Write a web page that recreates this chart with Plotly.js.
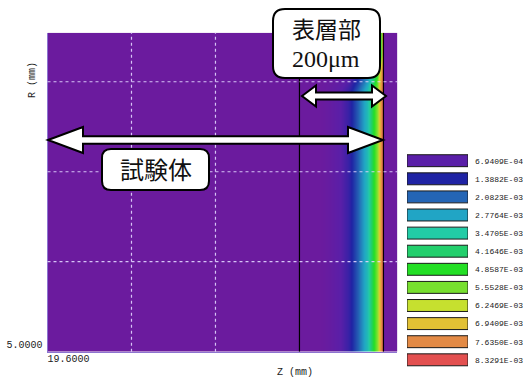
<!DOCTYPE html>
<html>
<head>
<meta charset="utf-8">
<script src="https://cdn.plot.ly/plotly-3.0.1.min.js"></script>
<style>
  html, body { margin: 0; padding: 0; background: #fff; }
  #chart { width: 523px; height: 377px; }
</style>
</head>
<body>
<div id="chart"></div>
<script>
// Contour levels of the concentration key
const levelValues = [6.9409e-4, 1.3882e-3, 2.0823e-3, 2.7764e-3, 3.4705e-3, 4.1646e-3,
                     4.8587e-3, 5.5528e-3, 6.2469e-3, 6.9409e-3, 7.6350e-3, 8.3291e-3];
const levelLabels = ['6.9409E-04', '1.3882E-03', '2.0823E-03', '2.7764E-03', '3.4705E-03', '4.1646E-03',
                     '4.8587E-03', '5.5528E-03', '6.2469E-03', '6.9409E-03', '7.6350E-03', '8.3291E-03'];
const levelColors = ['#5a1fa8', '#1f23a4', '#2465b5', '#21a5c5', '#22cca6', '#22cf6c',
                     '#23df24', '#77df2f', '#c6e02f', '#e2c134', '#e38a45', '#e35050'];
const baseColor = '#6b1b9e';

// Axial positions Z (mm) of the profile nodes
const zNodes = [19.600, 20.250, 20.268, 20.285, 20.301, 20.316, 20.327, 20.339, 20.351, 20.361,
                20.370, 20.377, 20.385, 20.389, 20.394, 20.398, 20.3995, 20.4005, 20.433];
// Radial positions R (mm) of the profile rows
const rNodes = [5.000, 5.580, 5.625, 5.660, 5.709];

// Concentration along Z: bulk of the specimen, near the end face, at the end face
const profileBulk     = [0, 0, 0.0002, 0.0005, 0.00075, 0.0011, 0.0015, 0.0020, 0.0026, 0.0032,
                         0.0040, 0.0048, 0.0058, 0.0066, 0.0074, 0.0081, 0.0083, 0, 0];
const profileShoulder = [0, 0, 0, 0, 0.0002, 0.0004, 0.0007, 0.0011, 0.0016, 0.0022,
                         0.0030, 0.0038, 0.0050, 0.0060, 0.0070, 0.0079, 0.0083, 0, 0];
const profileEdge     = [0, 0, 0, 0, 0, 0, 0, 0, 0, 0,
                         0, 0, 0.0005, 0.0020, 0.0045, 0.0072, 0.0083, 0, 0];
const rowProfiles = [profileBulk, profileBulk, profileShoulder, profileEdge, profileEdge];

// Mesh boundary lines (Z, mm) and grid positions
const boundaryZ = [20.2, 20.4];
const zGrid = [19.8, 20.0];
const rGrid = [5.2, 5.4, 5.6];
const zRange = [19.6, 20.433];
const rRange = [5.0, 5.709];
const zTickText = '19.6000';
const rTickText = '5.0000';

// ---- build colour scale from the key levels ----
const zMax = levelValues[levelValues.length - 1];
const colorscale = [[0, baseColor]].concat(levelValues.map((v, i) => [v / zMax, levelColors[i]]));

// ---- page-pixel helpers for the callout graphics ----
const W = 523, H = 377;
const px = x => x / W;
const py = y => 1 - y / H;
const pt = (x, y) => px(x).toFixed(5) + ',' + py(y).toFixed(5);

function roundRect(x0, y0, x1, y1, r) {
  return 'M' + pt(x0 + r, y0) + ' L' + pt(x1 - r, y0) + ' Q' + pt(x1, y0) + ' ' + pt(x1, y0 + r) +
         ' L' + pt(x1, y1 - r) + ' Q' + pt(x1, y1) + ' ' + pt(x1 - r, y1) +
         ' L' + pt(x0 + r, y1) + ' Q' + pt(x0, y1) + ' ' + pt(x0, y1 - r) +
         ' L' + pt(x0, y0 + r) + ' Q' + pt(x0, y0) + ' ' + pt(x0 + r, y0) + ' Z';
}
function doubleArrow(xl, xr, yc, hl, hh, sh) {
  return 'M' + pt(xl, yc) + ' L' + pt(xl + hl, yc - hh) + ' L' + pt(xl + hl, yc - sh) +
         ' L' + pt(xr - hl, yc - sh) + ' L' + pt(xr - hl, yc - hh) + ' L' + pt(xr, yc) +
         ' L' + pt(xr - hl, yc + hh) + ' L' + pt(xr - hl, yc + sh) + ' L' + pt(xl + hl, yc + sh) +
         ' L' + pt(xl + hl, yc + hh) + ' Z';
}

const monoFont = { family: 'Liberation Mono, DejaVu Sans Mono, monospace', size: 10, color: '#222' };

// ---- traces ----
const field = {
  type: 'heatmap',
  x: zNodes,
  y: rNodes,
  z: rowProfiles,
  zmin: 0,
  zmax: zMax,
  colorscale: colorscale,
  zsmooth: 'best',
  showscale: false,
  hoverinfo: 'skip',
  xaxis: 'x', yaxis: 'y'
};

const boundaries = boundaryZ.map(zb => ({
  type: 'scatter', mode: 'lines',
  x: [zb, zb], y: rRange,
  line: { color: '#000', width: 1.2 },
  hoverinfo: 'skip', showlegend: false,
  xaxis: 'x', yaxis: 'y'
}));

const key = {
  type: 'bar',
  orientation: 'h',
  x: levelValues.map(() => 1),
  y: levelLabels,
  marker: { color: levelColors, line: { color: '#1a1a1a', width: 1 } },
  hoverinfo: 'skip', showlegend: false,
  xaxis: 'x2', yaxis: 'y2'
};

// ---- gridlines drawn above the field ----
const shapes = [];
zGrid.forEach(g => shapes.push({
  type: 'line', xref: 'x', yref: 'y domain', x0: g, x1: g, y0: 0, y1: 1,
  line: { color: 'rgba(226,214,255,0.9)', width: 1.2, dash: '3px,3px' }, layer: 'above'
}));
rGrid.forEach(g => shapes.push({
  type: 'line', xref: 'x domain', yref: 'y', x0: 0, x1: 1, y0: g, y1: g,
  line: { color: 'rgba(226,214,255,0.9)', width: 1.2, dash: '3px,3px' }, layer: 'above'
}));

// callout arrows and boxes
const calloutStyle = { fillcolor: '#fff', line: { color: '#000', width: 2 }, layer: 'above', xref: 'paper', yref: 'paper', type: 'path' };
shapes.push(Object.assign({ path: doubleArrow(48, 383, 140, 35, 13, 3.8) }, calloutStyle));
shapes.push(Object.assign({ path: doubleArrow(302, 386, 96, 14, 10.5, 3.6) }, calloutStyle));
shapes.push(Object.assign({ path: roundRect(273, 9, 380, 78, 12) }, calloutStyle));
shapes.push(Object.assign({ path: roundRect(102, 149, 209, 190, 9) }, calloutStyle));

const annotations = [
  { text: '表層部', x: px(326), y: py(28), xref: 'paper', yref: 'paper', showarrow: false,
    xanchor: 'center', yanchor: 'middle',
    font: { family: 'Noto Sans CJK JP', size: 23, color: '#111' } },
  { text: '200μm', x: px(326), y: py(59), xref: 'paper', yref: 'paper', showarrow: false,
    xanchor: 'center', yanchor: 'middle',
    font: { family: 'Liberation Serif, DejaVu Serif, serif', size: 24, color: '#111' } },
  { text: '試験体', x: px(155.5), y: py(168.5), xref: 'paper', yref: 'paper', showarrow: false,
    xanchor: 'center', yanchor: 'middle',
    font: { family: 'Noto Sans CJK JP', size: 24, color: '#111' } },
  { text: 'Z (mm)', x: px(295), y: py(372), xref: 'paper', yref: 'paper', showarrow: false,
    xanchor: 'center', yanchor: 'middle', font: monoFont },
  { text: 'R (mm)', x: px(32), y: py(80), xref: 'paper', yref: 'paper', showarrow: false,
    xanchor: 'center', yanchor: 'middle', textangle: -90,
    font: Object.assign({}, monoFont, { size: 10 }) }
];

const layout = {
  width: W, height: H,
  margin: { l: 0, r: 0, t: 0, b: 0, pad: 0 },
  paper_bgcolor: '#fff',
  plot_bgcolor: '#fff',
  showlegend: false,
  xaxis: {
    domain: [px(47.5), px(397.3)], range: zRange, anchor: 'y',
    showgrid: false, zeroline: false, ticks: '',
    tickmode: 'array', tickvals: [zRange[0]], ticktext: [zTickText],
    ticklabelshift: 21, ticklabelstandoff: -3,
    tickfont: monoFont,
    showline: true, linecolor: '#8c74d0', linewidth: 1
  },
  yaxis: {
    domain: [py(351.7), py(32.7)], range: rRange, anchor: 'x',
    showgrid: false, zeroline: false, ticks: '',
    tickmode: 'array', tickvals: [rRange[0]], ticktext: [rTickText],
    ticklabelshift: -7, ticklabelstandoff: 2,
    tickfont: monoFont,
    showline: true, linecolor: '#8c74d0', linewidth: 1
  },
  xaxis2: {
    domain: [px(407), px(468)], range: [0, 1], anchor: 'y2',
    visible: false, fixedrange: true
  },
  yaxis2: {
    domain: [py(368.85), py(151.65)], anchor: 'x2', side: 'right',
    type: 'category', autorange: 'reversed',
    showgrid: false, zeroline: false, ticks: '', showline: false,
    ticklabelstandoff: 6,
    tickfont: { family: 'Liberation Mono, DejaVu Sans Mono, monospace', size: 8, color: '#222' }
  },
  bargap: 0.34,
  shapes: shapes,
  annotations: annotations
};

Plotly.newPlot('chart', [field].concat(boundaries, [key]), layout, { staticPlot: true, displayModeBar: false });
</script>
</body>
</html>
